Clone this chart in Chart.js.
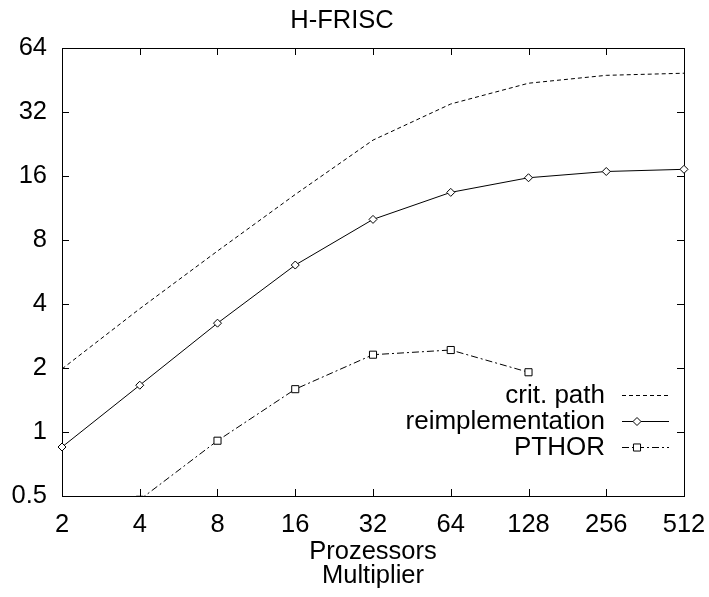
<!DOCTYPE html>
<html>
<head>
<meta charset="utf-8">
<script src="https://cdn.jsdelivr.net/npm/chart.js@4/dist/chart.umd.min.js"></script>
<style>
  body { margin: 0; background: #fff; }
  #wrap { width: 709px; height: 597px; position: relative; }
</style>
</head>
<body>
<div id="wrap"><canvas id="speedup"></canvas></div>
<script>
// processor counts on the x axis
const procs = [2, 4, 8, 16, 32, 64, 128, 256, 512];
const critPath = [1.98, 3.8, 7.1, 13.1, 23.6, 34.9, 43.7, 47.6, 48.7];
const reimpl = [0.85, 1.66, 3.25, 6.1, 10.0, 13.4, 15.7, 16.8, 17.2];
const pthorProcs = [4, 8, 16, 32, 64, 128];
const pthor = [0.48, 0.91, 1.59, 2.31, 2.43, 1.91];

const xTicks = [2, 4, 8, 16, 32, 64, 128, 256, 512];
const yTicks = [0.5, 1, 2, 4, 8, 16, 32, 64];

const FONT = "'Liberation Sans', Arial, Helvetica, sans-serif";
const FS = 25.5;

function pts(xs, ys) {
  return xs.map((x, i) => ({ x: x, y: ys[i] }));
}

// frame with inward ticks on all four sides, gnuplot style
const framePlugin = {
  id: 'frame',
  beforeDatasetsDraw(chart) {
    const { ctx, chartArea: a, scales } = chart;
    ctx.save();
    ctx.strokeStyle = '#000';
    ctx.lineWidth = 1;
    ctx.strokeRect(a.left + 0.5, a.top + 0.5, a.right - a.left, a.bottom - a.top);
    ctx.beginPath();
    const len = 7;
    xTicks.forEach(v => {
      const px = Math.round(scales.x.getPixelForValue(v)) + 0.5;
      ctx.moveTo(px, a.bottom); ctx.lineTo(px, a.bottom - len);
      ctx.moveTo(px, a.top); ctx.lineTo(px, a.top + len);
    });
    yTicks.forEach(v => {
      const py = Math.round(scales.y.getPixelForValue(v)) + 0.5;
      ctx.moveTo(a.left, py); ctx.lineTo(a.left + len, py);
      ctx.moveTo(a.right, py); ctx.lineTo(a.right - len, py);
    });
    ctx.stroke();
    ctx.restore();
  }
};

// key in the lower right: label text, then line sample with marker
const keyPlugin = {
  id: 'key',
  afterDatasetsDraw(chart) {
    const { ctx } = chart;
    const textRight = 605, lineL = 622, lineR = 669, markX = 637;
    const rows = [395, 421, 447];
    ctx.save();
    ctx.font = '26px ' + FONT;
    ctx.fillStyle = '#000';
    ctx.textAlign = 'right';
    ctx.textBaseline = 'middle';
    chart.data.datasets.forEach((ds, i) => {
      const y = rows[i];
      ctx.fillText(ds.label, textRight, y + 1);
      ctx.strokeStyle = '#000';
      ctx.lineWidth = 1;
      ctx.setLineDash(ds.borderDash || []);
      ctx.beginPath();
      ctx.moveTo(lineL, y + 0.5);
      ctx.lineTo(lineR, y + 0.5);
      ctx.stroke();
      ctx.setLineDash([]);
      if (ds.pointRadius > 0) {
        ctx.fillStyle = '#fff';
        Chart.helpers.drawPoint(ctx, {
          pointStyle: ds.pointStyle, radius: ds.pointRadius, rotation: 0, borderWidth: 1
        }, markX, y + 0.5);
        ctx.fillStyle = '#000';
      }
    });
    ctx.restore();
  }
};

const config = {
  type: 'line',
  data: {
    datasets: [
      {
        label: 'crit. path',
        data: pts(procs, critPath),
        borderColor: '#000',
        borderWidth: 1,
        borderDash: [4, 3],
        pointRadius: 0,
        clip: false
      },
      {
        label: 'reimplementation',
        data: pts(procs, reimpl),
        borderColor: '#000',
        backgroundColor: '#fff',
        borderWidth: 1,
        pointStyle: 'rectRot',
        pointRadius: 4,
        pointBorderWidth: 1,
        clip: false
      },
      {
        label: 'PTHOR',
        data: pts(pthorProcs, pthor),
        borderColor: '#000',
        backgroundColor: '#fff',
        borderWidth: 1,
        borderDash: [7, 3, 2, 3],
        pointStyle: 'rect',
        pointRadius: 5,
        pointBorderWidth: 1,
        clip: 0
      }
    ]
  },
  options: {
    responsive: true,
    maintainAspectRatio: false,
    animation: false,
    layout: { padding: { left: 0, right: 25, top: 0, bottom: 0 } },
    plugins: {
      legend: { display: false },
      tooltip: { enabled: false },
      title: {
        display: true,
        text: 'H-FRISC',
        color: '#000',
        font: { family: FONT, size: FS, weight: 'normal', lineHeight: 1.2 },
        padding: { top: 6, bottom: 11.4 }
      }
    },
    scales: {
      x: {
        type: 'logarithmic',
        min: 2,
        max: 512,
        afterBuildTicks: s => { s.ticks = xTicks.map(v => ({ value: v })); },
        afterFit: s => { s.height = 101; s.paddingLeft = 0; s.paddingRight = 0; },
        grid: { drawOnChartArea: false, drawTicks: false },
        border: { display: false },
        ticks: {
          color: '#000',
          font: { family: FONT, size: FS },
          padding: 14,
          maxRotation: 0,
          autoSkip: false,
          callback: v => String(v)
        },
        title: {
          display: true,
          text: ['Prozessors', 'Multiplier'],
          color: '#000',
          font: { family: FONT, size: FS, lineHeight: 0.94 },
          padding: { top: 0, bottom: 9 }
        }
      },
      y: {
        type: 'logarithmic',
        min: 0.5,
        max: 64,
        afterBuildTicks: s => { s.ticks = yTicks.map(v => ({ value: v })); },
        afterFit: s => { s.width = 62; s.paddingTop = 0; s.paddingBottom = 0; },
        grid: { drawOnChartArea: false, drawTicks: false },
        border: { display: false },
        ticks: {
          color: '#000',
          font: { family: FONT, size: FS },
          padding: 15,
          autoSkip: false,
          callback: v => String(v)
        }
      }
    }
  },
  plugins: [framePlugin, keyPlugin]
};

const ctx = document.getElementById('speedup').getContext('2d');
const speedChart = new Chart(ctx, config);
</script>
</body>
</html>
